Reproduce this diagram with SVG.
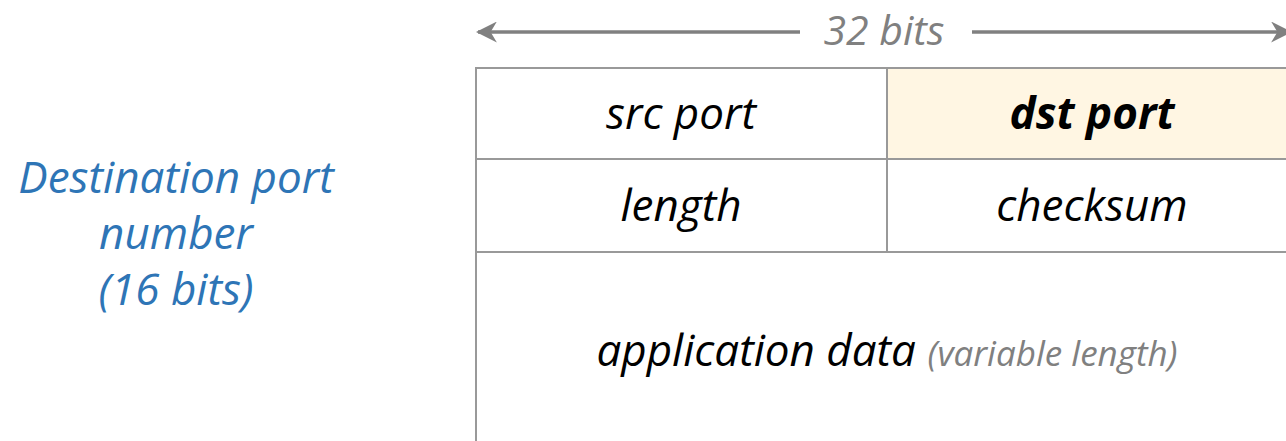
<svg xmlns="http://www.w3.org/2000/svg" width="1286" height="441" viewBox="0 0 1286 441">
  <style>
    .lbl { font-family: "Open Sans", "Noto Sans", sans-serif; font-style: italic; font-size: 44px; fill: #000; text-anchor: middle; }
    .cell { fill: #fff; stroke: #999; stroke-width: 2; }
    .dim { fill: #808080; font-size: 41px; }
    .side { font-family: "Open Sans", "Noto Sans", sans-serif; font-style: italic; font-size: 44px; fill: #2e75b6; text-anchor: middle; }
    .ruler { stroke: #808080; stroke-width: 3.5; fill: none; }
  </style>
  <defs>
    <marker id="head" viewBox="0 0 10 10" refX="9" refY="5" markerWidth="6" markerHeight="6" orient="auto-start-reverse" markerUnits="strokeWidth">
      <path d="M0,0 L10,5 L0,10 L3,5 Z" fill="#808080"/>
    </marker>
  </defs>

  <rect width="1286" height="441" fill="#fff"/>

  <!-- width ruler -->
  <g id="connectors">
    <line class="ruler" x1="478" y1="32" x2="800" y2="32" marker-start="url(#head)"/>
    <line class="ruler" x1="972" y1="32" x2="1290" y2="32" marker-end="url(#head)"/>
  </g>
  <g id="width-label">
    <text class="lbl dim" x="884" y="45">32 bits</text>
  </g>

  <!-- header fields -->
  <g id="src-port">
    <rect class="cell" x="476" y="68" width="411" height="91"/>
    <text class="lbl" x="681" y="129">src port</text>
  </g>
  <g id="dst-port">
    <rect class="cell" x="887" y="68" width="410" height="91" style="fill:#fff6e3"/>
    <text class="lbl" x="1092" y="129" font-weight="bold">dst port</text>
  </g>
  <g id="length">
    <rect class="cell" x="476" y="159" width="411" height="93"/>
    <text class="lbl" x="681" y="221">length</text>
  </g>
  <g id="checksum">
    <rect class="cell" x="887" y="159" width="410" height="93"/>
    <text class="lbl" x="1092" y="221">checksum</text>
  </g>
  <g id="payload">
    <rect class="cell" x="476" y="252" width="821" height="200"/>
    <text class="lbl" x="887" y="366">application data <tspan font-size="35" fill="#808080">(variable length)</tspan></text>
  </g>

  <!-- side annotation -->
  <g id="annotation">
    <text class="side" x="176" y="193">Destination port</text>
    <text class="side" x="176" y="249">number</text>
    <text class="side" x="176" y="305">(16 bits)</text>
  </g>
</svg>
